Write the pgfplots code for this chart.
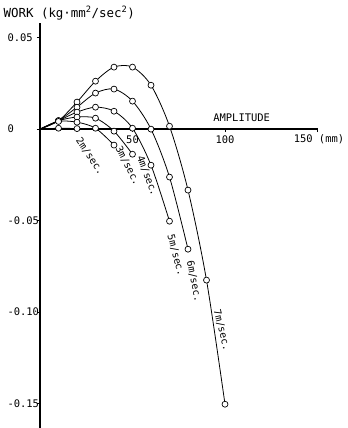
\documentclass[border=0pt]{standalone}
\usepackage{fontspec}
\setmainfont{DejaVu Sans Mono}
\usepackage{pgfplots}
\pgfplotsset{compat=1.18}
\begin{document}
\begin{tikzpicture}
\path[use as bounding box] (0,0) rectangle (348bp,428bp);
\begin{axis}[
  at={(40bp,0bp)}, anchor=south west,
  scale only axis, width=277.5bp, height=405bp,
  xmin=0, xmax=150, ymin=-0.1633, ymax=0.058,
  axis x line=middle, axis y line=left,
  every inner x axis line/.append style={-},
  every outer y axis line/.append style={-},
  x axis line style={line width=1.3pt},
  y axis line style={line width=1.6pt},
  xtick={50,100,150}, xticklabels={50,100,{}},
  ytick={-0.15,-0.1,-0.05,0,0.05},
  yticklabels={-0.15,-0.10,-0.05,0,0.05},
  tick align=outside, major tick length=3bp,
  tick style={black, line width=0.8pt},
  ticklabel style={font=\fontsize{10.5}{12}\selectfont},
  yticklabel style={anchor=west, xshift=-33bp},
  hide obscured y ticks=false,
  clip=false,
  curve/.style={black, line width=0.8pt, smooth, tension=0.5,
     mark=*, mark size=3pt, mark options={fill=white, draw=black, line width=0.7pt, solid}},
]
% 7 m/sec
\addplot[curve, mark indices={2,3,4,5,6,7,8,9,10,11}] coordinates {
(0,0) (10,0.0046) (20,0.0148) (30,0.0262) (40,0.0339) (50,0.0339)
(60,0.0240) (70,0.0016) (80,-0.0333) (90,-0.0825) (100,-0.1503)};
% 6 m/sec
\addplot[curve, mark indices={2,3,4,5,6,7,8,9}] coordinates {
(0,0) (10,0.0046) (20,0.0120) (30,0.0197) (40,0.0219) (50,0.0153)
(60,0.0) (70,-0.0262) (80,-0.0656)};
% 5 m/sec
\addplot[curve, mark indices={2,3,4,5,6,7,8}] coordinates {
(0,0) (10,0.0046) (20,0.0093) (30,0.0120) (40,0.0098) (50,0.0005)
(60,-0.0197) (70,-0.0503)};
% 4 m/sec
\addplot[curve, mark indices={2,3,4,5,6}] coordinates {
(0,0) (10,0.0046) (20,0.0066) (30,0.0060) (40,-0.0011) (50,-0.0137)};
% 3 m/sec
\addplot[curve, mark indices={2,3,4,5}] coordinates {
(0,0) (10,0.0042) (20,0.0038) (30,0.0005) (40,-0.0087)};
% 2 m/sec
\addplot[curve, mark indices={2,3}] coordinates {
(0,0) (10,0.0005) (20,0.0003)};

\begin{scope}[font=\fontsize{10}{12}\selectfont, inner sep=0pt]
\node[rotate=-56] at (axis cs:27,-0.0150) {2m/sec.};
\node[rotate=-63] at (axis cs:47.5,-0.0200) {3m/sec.};
\node[rotate=-69] at (axis cs:58,-0.0255) {4m/sec.};
\node[rotate=-75] at (axis cs:73.5,-0.0690) {5m/sec.};
\node[rotate=-79] at (axis cs:83.3,-0.0831) {6m/sec.};
\node[rotate=-76] at (axis cs:98.3,-0.1098) {7m/sec.};
\end{scope}
\node[font=\fontsize{10.5}{12}\selectfont] at (axis cs:109,0.006) {AMPLITUDE};
\node[font=\fontsize{10.5}{12}\selectfont] at (axis cs:150.8,-0.0055) {150 (mm)};
\end{axis}
\node[anchor=west, font=\fontsize{12.5}{14}\selectfont] at (0bp,415bp) {WORK (kg·mm\textsuperscript{2}/sec\textsuperscript{2})};
\end{tikzpicture}
\end{document}
